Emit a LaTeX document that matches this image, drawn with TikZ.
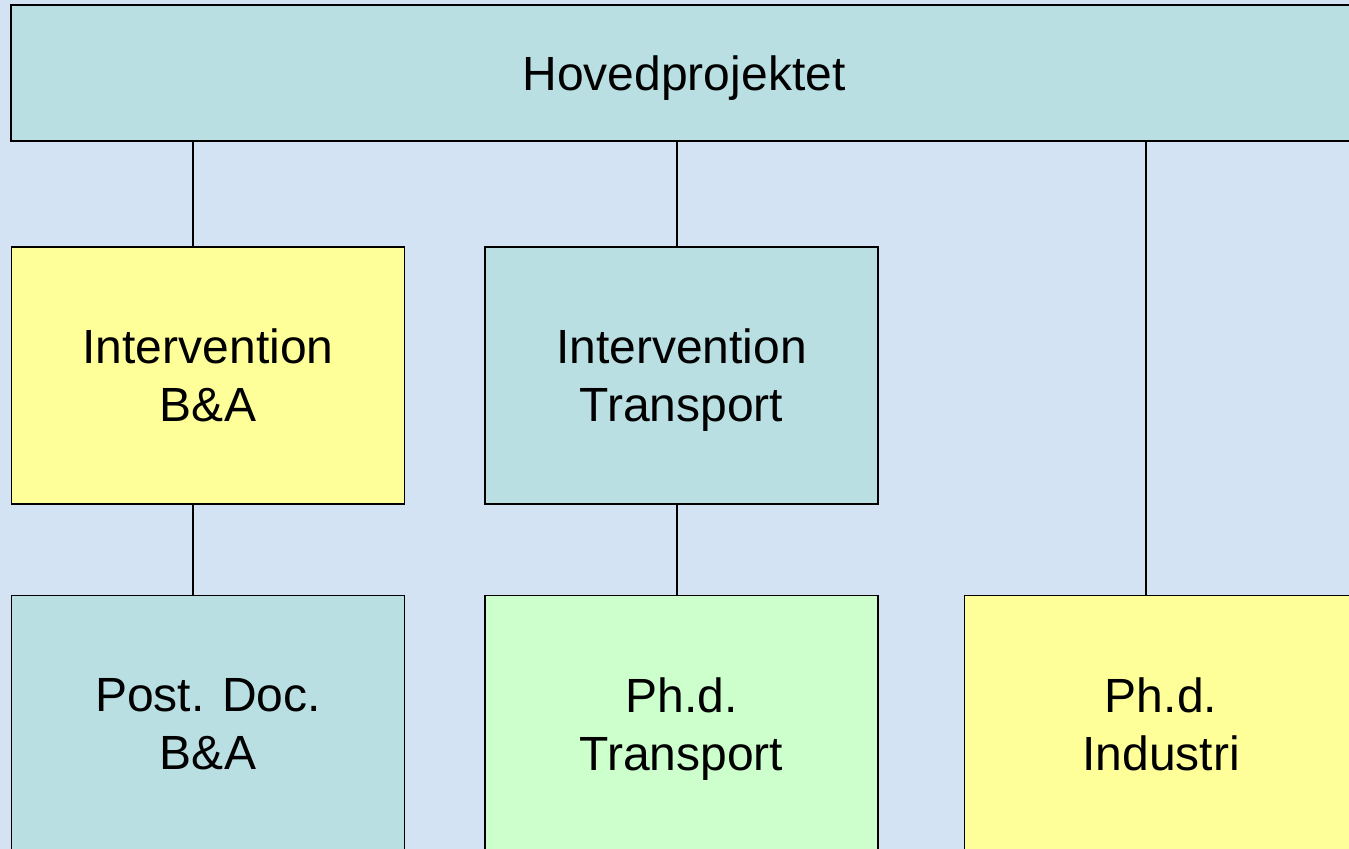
\documentclass[tikz,border=0pt]{standalone}
\usepackage{fontspec}
\setmainfont{Liberation Sans}
\usepackage{tikz}
\usetikzlibrary{positioning}
\definecolor{bgblue}{HTML}{D4E3F3}
\definecolor{boxteal}{HTML}{B9DFE3}
\definecolor{boxyellow}{HTML}{FFFF99}
\definecolor{boxgreen}{HTML}{CCFFCC}

\begin{document}
\begin{tikzpicture}[x=0.75pt,y=-0.75pt]
\tikzstyle{every node}+=[inner sep=0pt]
\tikzstyle{unit}=[draw=black, line width=1.4pt, minimum width=393*0.75pt, minimum height=257*0.75pt, align=center, font=\fontsize{36}{43.5}\selectfont, text depth=0pt]
\tikzstyle{link}=[black, line width=1pt]
\useasboundingbox (0,0) rectangle (1349,849);
\clip (0,0) rectangle (1349,849);
\fill [bgblue] (0,0) rectangle (1349,849);
% top level
\node [unit, fill=boxteal, minimum width=1346*0.75pt, minimum height=136*0.75pt] (hoved) at (684,73) {Hovedprojektet};
% second row
\node [unit, fill=boxyellow] (intba) at (208,375.5) {Intervention\\B\&A};
\node [unit, fill=boxteal] (inttr) at (681.5,375.5) {Intervention\\Transport};
% third row
\node [unit, fill=boxteal] (postdoc) at (208,724) {Post. Doc.\\B\&A};
\node [unit, fill=boxgreen] (phdtr) at (681.5,724) {Ph.d.\\Transport};
\node [unit, fill=boxyellow] (phdind) at (1161,724) {Ph.d.\\Industri};
% connectors
\draw [link] ([xshift=-11.25pt]intba.north) -- ([xshift=-11.25pt]intba.north |- hoved.south);
\draw [link] ([xshift=-3.4pt]inttr.north) -- ([xshift=-3.4pt]inttr.north |- hoved.south);
\draw [link] ([xshift=-11.25pt]phdind.north) -- ([xshift=-11.25pt]phdind.north |- hoved.south);
\draw [link] ([xshift=-11.25pt]intba.south) -- ([xshift=-11.25pt]postdoc.north);
\draw [link] ([xshift=-3.4pt]inttr.south) -- ([xshift=-3.4pt]phdtr.north);
\end{tikzpicture}
\end{document}
